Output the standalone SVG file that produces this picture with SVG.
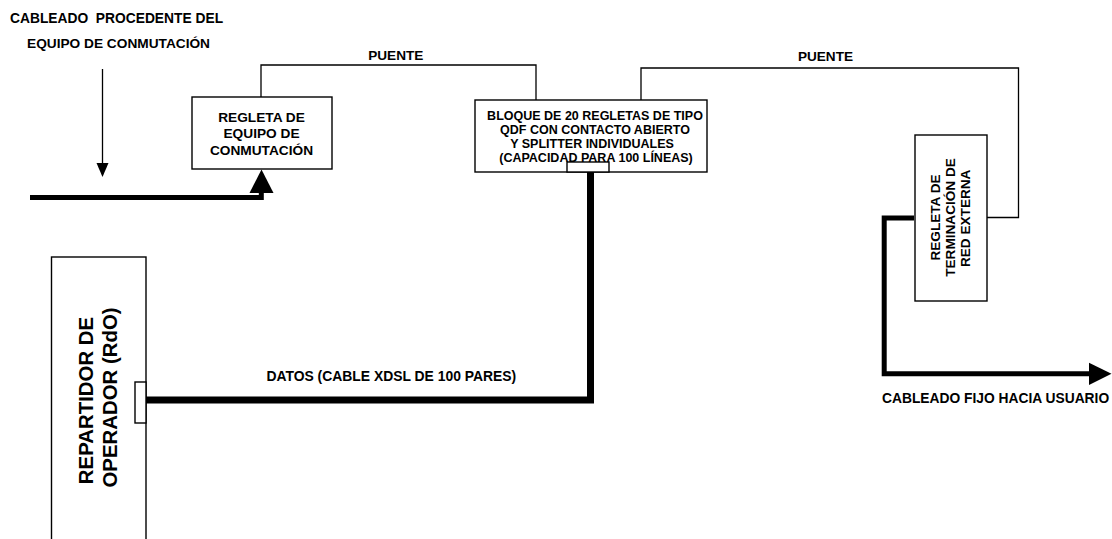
<svg xmlns="http://www.w3.org/2000/svg" width="1112" height="539" viewBox="0 0 1112 539">
  <style>
    text { font-family: "Liberation Sans", Arial, sans-serif; font-weight: bold; fill: #000; }
    .box { fill: #fff; stroke: #000; stroke-width: 1.4; }
    .thin { fill: none; stroke: #000; stroke-width: 1.3; }
    .thick { fill: none; stroke: #000; stroke-linejoin: miter; stroke-linecap: butt; }
    .head { fill: #000; stroke: none; }
  </style>
  <rect width="1112" height="539" fill="#fff"/>

  <g id="source-label">
    <text x="10" y="22.7" font-size="13.8" xml:space="preserve">CABLEADO  PROCEDENTE DEL</text>
    <text x="27" y="48.3" font-size="13.7">EQUIPO DE CONMUTACIÓN</text>
  </g>

  <g id="connectors">
    <!-- incoming from switching equipment -->
    <line class="thin" x1="102.5" y1="69" x2="102.5" y2="165" stroke-width="1.5"/>
    <polygon class="head" points="96.5,163 108.5,163 102.5,177"/>
    <polyline class="thick" stroke-width="5" points="30,197.5 261.3,197.5 261.3,191"/>
    <polygon class="head" points="249.5,193 273.5,193 261.5,169.5"/>

    <!-- PUENTE 1 -->
    <polyline class="thin" points="261,97 261,65 536,65 536,100"/>
    <text x="395.8" y="60" font-size="13.6" text-anchor="middle">PUENTE</text>

    <!-- PUENTE 2 -->
    <polyline class="thin" points="641,100 641,68 1018.5,68 1018.5,217.5 987,217.5"/>
    <text x="825.5" y="60.7" font-size="13.6" text-anchor="middle">PUENTE</text>

    <!-- DATOS -->
    <polyline class="thick" stroke-width="7" points="146,400 590.5,400 590.5,172"/>
    <text x="391.3" y="380.5" font-size="13.9" text-anchor="middle">DATOS (CABLE XDSL DE 100 PARES)</text>

    <!-- output to user -->
    <polyline class="thick" stroke-width="5" points="914,218 884.2,218 884.2,373.7 1091,373.7"/>
    <polygon class="head" points="1089,362.7 1089,385 1111.5,373.8"/>
    <text x="882" y="403.3" font-size="13.8">CABLEADO FIJO HACIA USUARIO</text>
  </g>

  <g id="regleta-equipo">
    <rect class="box" x="192" y="97" width="140" height="72"/>
    <text x="261.5" y="121.7" font-size="13.7" text-anchor="middle">REGLETA DE</text>
    <text x="261.5" y="138.3" font-size="13.7" text-anchor="middle">EQUIPO DE</text>
    <text x="261.5" y="155" font-size="13.7" text-anchor="middle">CONMUTACIÓN</text>
  </g>

  <g id="bloque-qdf">
    <rect class="box" x="475" y="100" width="232" height="72"/>
    <text x="595" y="120" font-size="12.5" text-anchor="middle">BLOQUE DE 20 REGLETAS DE TIPO</text>
    <text x="595" y="134" font-size="12.5" text-anchor="middle">QDF CON CONTACTO ABIERTO</text>
    <text x="592" y="148" font-size="12.5" text-anchor="middle">Y SPLITTER INDIVIDUALES</text>
    <text x="596" y="161.5" font-size="12.5" text-anchor="middle">(CAPACIDAD PARA 100 LÍNEAS)</text>
    <rect class="box" x="567" y="162" width="42" height="10" stroke-width="1.2"/>
  </g>

  <g id="regleta-red-externa">
    <rect class="box" x="915" y="135" width="72" height="166"/>
    <text transform="translate(939.5,217.5) rotate(-90)" font-size="13.6" text-anchor="middle">REGLETA DE</text>
    <text transform="translate(954.5,217.5) rotate(-90)" font-size="13.6" text-anchor="middle">TERMINACIÓN DE</text>
    <text transform="translate(969.5,218.3) rotate(-90)" font-size="13.6" text-anchor="middle">RED EXTERNA</text>
  </g>

  <g id="repartidor-operador">
    <rect class="box" x="51.5" y="257" width="94.5" height="290"/>
    <text transform="translate(93,400.5) rotate(-90)" font-size="20.4" text-anchor="middle">REPARTIDOR DE</text>
    <text transform="translate(117,397.5) rotate(-90)" font-size="20.4" text-anchor="middle">OPERADOR (RdO)</text>
    <rect class="box" x="135" y="382" width="11" height="41" stroke-width="1.2"/>
  </g>
</svg>
